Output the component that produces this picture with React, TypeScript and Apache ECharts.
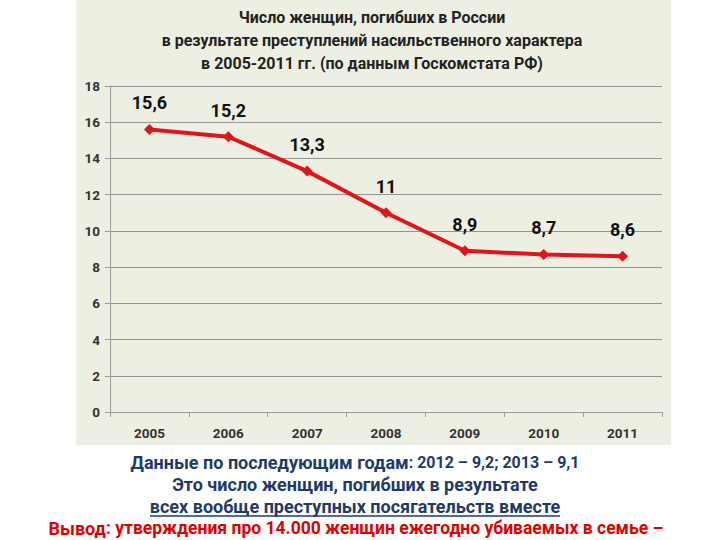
import React, { useEffect, useRef } from "react";
import * as echarts from "echarts";

const years = ["2005", "2006", "2007", "2008", "2009", "2010", "2011"];
const values = [15.6, 15.2, 13.3, 11, 8.9, 8.7, 8.6];
const titleLines = [
  "Число женщин, погибших в России",
  "в результате преступлений насильственного характера",
  "в 2005-2011 гг. (по данным Госкомстата РФ)",
];
const noteLines = [
  "Это число женщин, погибших в результате",
  "всех вообще преступных посягательств вместе",
];

const FONT = "Roboto";

export default function App() {
  const ref = useRef<HTMLDivElement>(null);
  useEffect(() => {
    const chart = echarts.init(ref.current!, null, { renderer: "svg" });
    chart.setOption({
      animation: false,
      backgroundColor: "#ffffff",
      grid: { left: 110, right: 58, top: 86, bottom: 128 },
      xAxis: {
        type: "category",
        data: years,
        boundaryGap: true,
        axisLine: { lineStyle: { color: "#9a9a9a" } },
        axisTick: { show: true, alignWithLabel: false, length: 5, lineStyle: { color: "#9a9a9a" } },
        axisLabel: { color: "#333", fontFamily: FONT, fontWeight: "bold", fontSize: 13.5, margin: 14 },
      },
      yAxis: {
        type: "value",
        min: 0,
        max: 18,
        interval: 2,
        axisLine: { show: true, lineStyle: { color: "#9a9a9a" } },
        axisTick: { show: true, length: 5, lineStyle: { color: "#9a9a9a" } },
        axisLabel: { color: "#333", fontFamily: FONT, fontWeight: "bold", fontSize: 13.5, margin: 10 },
        splitLine: { lineStyle: { color: "#959595", width: 1 } },
      },
      series: [
        {
          type: "line",
          data: values,
          symbol: "diamond",
          symbolSize: 11,
          lineStyle: { color: "#e0151b", width: 4 },
          itemStyle: { color: "#e0151b" },
          label: {
            show: true,
            position: "top",
            distance: 12,
            formatter: (p: any) => String(p.value).replace(".", ","),
            color: "#111",
            fontFamily: FONT,
            fontWeight: "bold",
            fontSize: 18,
          },
        },
      ],
      graphic: [
        {
          type: "rect",
          z: -10,
          silent: true,
          shape: { x: 76, y: 0, width: 595, height: 445 },
          style: { fill: "#eeefe3" },
        },
        ...titleLines.map((t, i) => ({
          type: "text",
          x: 372,
          y: 17 + i * 23,
          style: {
            text: t,
            fill: "#222",
            font: `bold 16px ${FONT}`,
            textAlign: "center",
            textVerticalAlign: "middle",
          },
        })),
        {
          type: "text",
          x: 355,
          y: 462,
          style: {
            text: "{a|Данные по последующим годам}{b|: 2012 – 9,2; 2013 – 9,1}",
            textAlign: "center",
            textVerticalAlign: "middle",
            rich: {
              a: { fill: "#1f3a68", fontFamily: FONT, fontWeight: "bold", fontSize: 18 },
              b: { fill: "#1f3a68", fontFamily: FONT, fontWeight: "bold", fontSize: 16 },
            },
          },
        },
        ...noteLines.map((t, i) => ({
          type: "text",
          x: 355,
          y: 484 + i * 22,
          style: {
            text: t,
            fill: "#1f3a68",
            font: `bold 18px ${FONT}`,
            textAlign: "center",
            textVerticalAlign: "middle",
          },
        })),
        {
          type: "line",
          shape: { x1: 150, y1: 516, x2: 560, y2: 516 },
          style: { stroke: "#1f3a68", lineWidth: 1.4 },
        },
        {
          type: "text",
          x: 356,
          y: 528,
          style: {
            text: "{a|Вывод}{b|: утверждения про 14.000 женщин ежегодно убиваемых в семье –}",
            textAlign: "center",
            textVerticalAlign: "middle",
            rich: {
              a: { fill: "#e00000", fontFamily: FONT, fontWeight: "bold", fontSize: 18 },
              b: { fill: "#e00000", fontFamily: FONT, fontWeight: "bold", fontSize: 17.5 },
            },
          },
        },
      ],
    });
    return () => chart.dispose();
  }, []);
  return (
    <div
      ref={ref}
      style={{ position: "fixed", left: 0, top: 0, width: 720, height: 540 }}
    />
  );
}
